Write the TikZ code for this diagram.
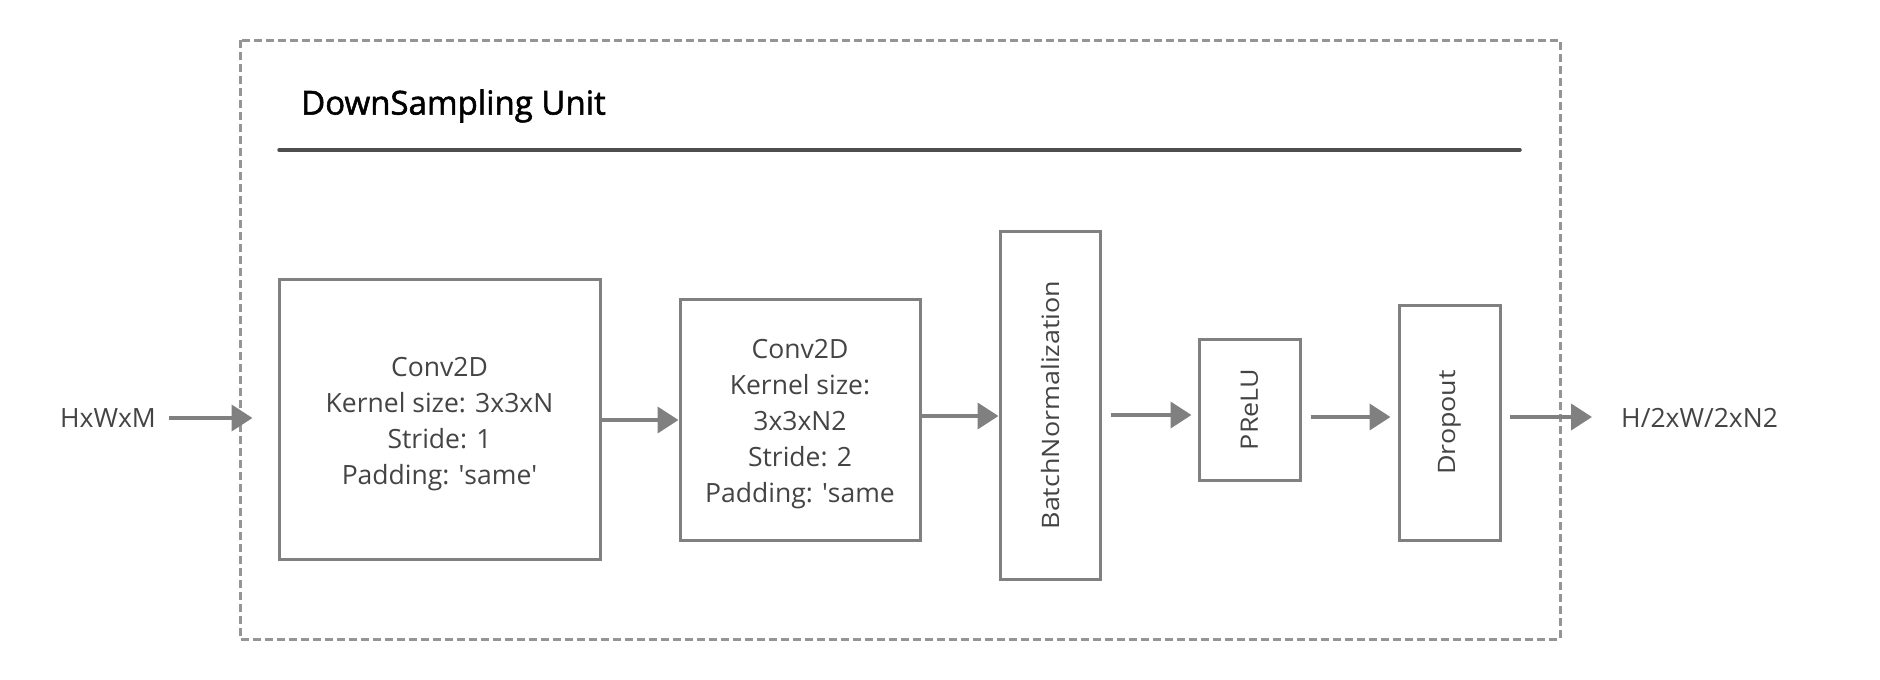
\documentclass[tikz,border=0pt]{standalone}
\usepackage{fontspec}
\setmainfont{Open Sans}
\newfontfamily\titlefont[FakeBold=1.6]{Open Sans}
\usetikzlibrary{arrows.meta}
\definecolor{boxgray}{HTML}{808080}
\definecolor{dashgray}{HTML}{959595}
\definecolor{rulegray}{HTML}{4D4D4D}
\definecolor{txtgray}{HTML}{444444}
\newcommand{\sq}{\textquotesingle}
\newcommand{\vtext}[1]{\scalebox{1.12}[1]{#1}}
\tikzset{
  layer/.style={draw=boxgray, line width=3pt, fill=white, inner sep=0pt},
  htext/.style={text=txtgray, align=center, inner sep=0pt, yshift=-5pt,
    font=\fontsize{26.5}{36}\selectfont},
  lbl/.style={text=txtgray, inner sep=0pt, font=\fontsize{26.5}{36}\selectfont},
  vlbl/.style={text=txtgray, rotate=90, inner sep=0pt, font=\fontsize{24}{30}\selectfont},
  arr/.style={draw=boxgray, line width=4pt, -{Triangle[length=21pt,width=26pt]}},
}
\begin{document}
\begin{tikzpicture}[x=1pt,y=-1pt]
\useasboundingbox (0,0) rectangle (1880,680);
% outer dashed frame
\draw[dashgray, line width=3pt, dash pattern=on 8pt off 4pt] (240,40) rectangle (1560,639);
\node[anchor=west, inner sep=0pt, font=\titlefont\fontsize{33}{38}\selectfont] (title) at (301,106) {DownSampling Unit};
\draw[rulegray, line width=3.5pt, line cap=round] (279,150) -- (1520,150);
% nodes
\node[lbl] (in) at (108,418) {HxWxM};
\node[layer, minimum width=321pt, minimum height=280pt] (c1) at (439.5,419) {};
\node[htext] (c1t) at (c1.center) {Conv2D\\Kernel size: 3x3xN\\Stride: 1\\Padding: \sq same\sq};
\node[layer, minimum width=240pt, minimum height=241pt] (c2) at (800,419.5) {};
\node[htext] (c2t) at (c2.center) {Conv2D\\Kernel size:\\3x3xN2\\Stride: 2\\Padding: \sq same};
\node[layer, minimum width=100pt, minimum height=348pt] (bn) at (1050,405) {};
\node[vlbl] (bnt) at (bn.center) {\vtext{BatchNormalization}};
\node[layer, minimum width=101pt, minimum height=141pt] (pr) at (1249.5,409.5) {};
\node[vlbl] (prt) at (pr.center) {\vtext{PReLU}};
\node[layer, minimum width=101pt, minimum height=235pt] (dr) at (1449.5,422.5) {};
\node[vlbl] (drt) at (dr.center) {\vtext{Dropout}};
\node[lbl, anchor=west] (out) at (1621,418) {H/2xW/2xN2};
% arrows
\draw[arr, shorten <=13pt, shorten >=25pt] (in.east) -- (in.east -| c1.west);
\draw[arr] (c1.east |- 0,420) -- (c2.west |- 0,420);
\draw[arr] (c2.east |- 0,416) -- (bn.west |- 0,416);
\draw[arr, shorten <=9pt, shorten >=6pt] (bn.east |- 0,415) -- (pr.west |- 0,415);
\draw[arr, shorten <=9pt, shorten >=7pt] (pr.east |- 0,417) -- (dr.west |- 0,417);
\draw[arr, shorten <=8pt, shorten >=29pt] (dr.east |- 0,417) -- (out.west |- 0,417);
\end{tikzpicture}
\end{document}
